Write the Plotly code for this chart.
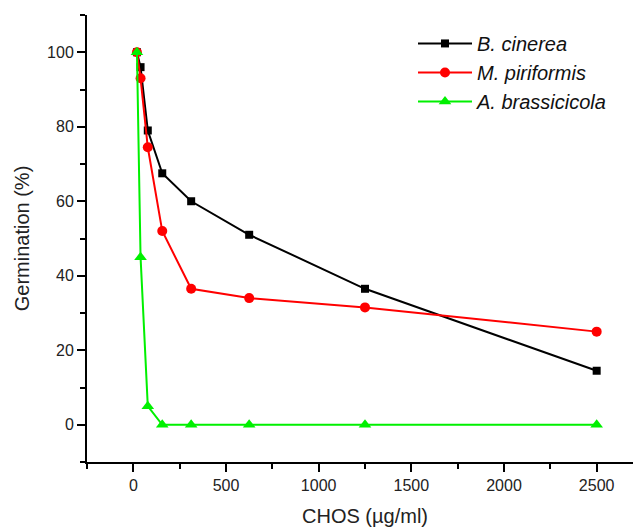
import plotly.graph_objects as go

chos = [19.5, 39, 78, 156, 312, 625, 1250, 2500]
b_cinerea = [100, 96, 79, 67.5, 60, 51, 36.5, 14.5]
m_piriformis = [100, 93, 74.5, 52, 36.5, 34, 31.5, 25]
a_brassicicola = [100, 45, 5, 0, 0, 0, 0, 0]

series = [
    ("B. cinerea", b_cinerea, "black", "square", 8),
    ("M. piriformis", m_piriformis, "#ff0000", "circle", 10),
    ("A. brassicicola", a_brassicicola, "#00f000", "triangle-up", 11),
]

fig = go.Figure()
for name, vals, color, sym, size in series:
    fig.add_trace(go.Scatter(
        x=chos, y=vals, name=name, mode="lines+markers",
        line=dict(color=color, width=2),
        marker=dict(symbol=sym, size=size, color=color, line=dict(width=0)),
    ))

font = "Liberation Sans, Arial, sans-serif"
fig.update_layout(
    width=641, height=528,
    margin=dict(l=79, r=6, t=7, b=74),
    paper_bgcolor="white", plot_bgcolor="white",
    font=dict(family=font, color="#222222"),
    showlegend=True,
    legend=dict(
        x=(405 - 79) / 556, y=0.98, xanchor="left", yanchor="top",
        font=dict(family=font, size=20, style="italic", color="#111111"),
        bgcolor="rgba(0,0,0,0)", tracegroupgap=0, itemwidth=54,
    ),
    xaxis=dict(
        range=[-250, 2750], tick0=0, dtick=500,
        showgrid=False, zeroline=False,
        showline=True, linecolor="black", linewidth=2,
        ticks="outside", ticklen=8, tickwidth=2, tickcolor="black",
        tickfont=dict(size=16, color="#222222"),
        minor=dict(dtick=250, tick0=0, ticks="outside", ticklen=5, tickwidth=2, tickcolor="black"),
        title=dict(text="CHOS (\u00b5g/ml)", font=dict(size=20, color="#222222"), standoff=16),
    ),
    yaxis=dict(
        range=[-10, 110], tick0=0, dtick=20,
        showgrid=False, zeroline=False,
        showline=True, linecolor="black", linewidth=2,
        ticks="outside", ticklen=8, tickwidth=2, tickcolor="black",
        tickfont=dict(size=16, color="#222222"),
        minor=dict(dtick=10, tick0=0, ticks="outside", ticklen=5, tickwidth=2, tickcolor="black"),
        title=dict(text="Germination (%)", font=dict(size=20, color="#222222"), standoff=12),
    ),
)

fig.write_html("out.html")
